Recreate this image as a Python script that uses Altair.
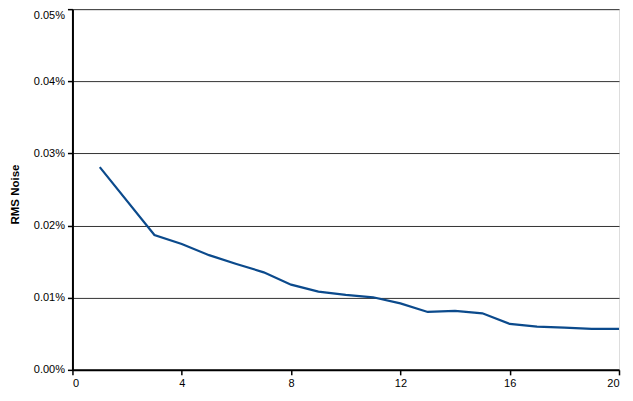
import altair as alt
import pandas as pd

xs = [1, 3, 4, 5, 6, 7, 8, 9, 10, 11, 12, 13, 14, 15, 16, 17, 18, 19, 20]
noise_pct = [0.0281, 0.0187, 0.01745, 0.0159, 0.01468, 0.01352, 0.01181, 0.01084, 0.01039,
             0.01006, 0.00922, 0.00803, 0.00817, 0.00784, 0.00637, 0.0060, 0.00586, 0.00568, 0.00568]

df = pd.DataFrame({"x": xs, "noise": [v / 100 for v in noise_pct]})

font = "Liberation Sans"

chart = alt.Chart(df).mark_line(color="#0B4A8C", strokeWidth=2.2).encode(
    x=alt.X("x:Q", scale=alt.Scale(domain=[0, 20], nice=False),
            axis=alt.Axis(values=[0, 4, 8, 12, 16, 20], grid=False, title=None,
                          labelFont=font, labelFontSize=11, labelColor="#000",
                          domainColor="#000", domainWidth=2, tickColor="#000",
                          tickSize=5, tickWidth=1.5, labelPadding=3)),
    y=alt.Y("noise:Q", scale=alt.Scale(domain=[0, 0.0005], nice=False),
            axis=alt.Axis(values=[0, 0.0001, 0.0002, 0.0003, 0.0004, 0.0005], format=".2%",
                          title="RMS Noise", titleFont=font, titleFontSize=11.5,
                          titleFontWeight="bold", titleColor="#000",
                          titleX=-52, titleY=185,
                          labelFont=font, labelFontSize=11, labelColor="#000",
                          labelBaseline={"condition": {"test": "datum.value >= 0.00049", "value": "top"},
                                         "value": "middle"},
                          domainColor="#000", domainWidth=2, tickColor="#000",
                          tickSize=5, tickWidth=1.5, labelPadding=3,
                          grid=True, gridColor="#333", gridWidth=1)),
).properties(
    width=547, height=361,
    autosize=alt.AutoSizeParams(type="none"),
    padding={"left": 64.5, "top": 1, "right": 6, "bottom": 18},
).configure_view(stroke="#000", strokeWidth=1.5).configure(background="white")

chart.save("out.html", embed_options={"renderer": "svg", "actions": False})
